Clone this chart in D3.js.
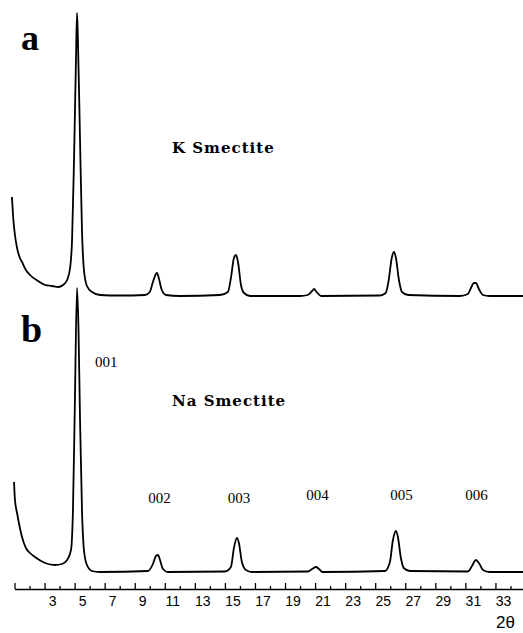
<!DOCTYPE html>
<html>
<script src="https://d3js.org/d3.v7.min.js"></script>
<style>
  body {margin:0; background:#fff;}
  .trace {fill:none; stroke:#000; stroke-width:1.8; stroke-linejoin:round;}
  .tick line {stroke:#000; stroke-width:1.3;}
  .domain {stroke:#000; stroke-width:1.3;}
</style>
<body onload='init()'>
<svg width=523 height=633></svg>
<script>
    // K smectite trace (a): 2-theta and intensity
    const kTheta = [0.33, 0.4, 0.53, 0.67, 0.86, 1.0, 1.26, 1.53, 2.06, 2.53, 3.0, 3.4, 3.73, 4.0, 4.2, 4.33, 4.46, 4.59, 4.66, 4.72, 4.86, 4.99, 5.12, 5.32, 5.66, 6.19, 7.52, 9.18, 9.5, 9.71, 9.91, 9.98, 10.1, 10.3, 10.58, 11.5, 14.17, 14.7, 14.9, 15.1, 15.24, 15.37, 15.57, 15.77, 16.17, 19.5, 20.0, 20.3, 20.43, 20.6, 20.9, 24.8, 25.2, 25.4, 25.6, 25.75, 25.88, 26.08, 26.28, 26.7, 30.14, 30.67, 30.87, 31.07, 31.2, 31.4, 31.67, 32.1, 34.4];
    const kIntensity = [99, 81, 61, 48, 38, 34, 26, 21, 15, 11, 10, 9, 11, 16, 28, 56, 136, 236, 283, 256, 156, 66, 26, 10, 4, 1, 0.5, 1, 4, 14, 22, 23, 18, 6, 1, 0, 1, 4, 18, 38, 41, 34, 11, 3, 0, 0, 1, 5, 7, 4, 0, 0.5, 3, 16, 38, 44, 38, 16, 4, 1, 0, 2, 8, 13, 13, 7, 1, 0, 0];

    // Na smectite trace (b)
    const naTheta = [0.47, 0.53, 0.67, 0.86, 1.0, 1.26, 1.53, 1.86, 2.53, 3.19, 3.66, 4.0, 4.26, 4.39, 4.52, 4.66, 4.76, 4.86, 4.99, 5.12, 5.32, 5.66, 6.19, 9.38, 9.71, 9.91, 10.05, 10.18, 10.38, 10.71, 14.5, 14.9, 15.1, 15.3, 15.43, 15.63, 15.9, 16.3, 20.03, 20.3, 20.56, 20.76, 21.0, 25.15, 25.48, 25.68, 25.88, 26.01, 26.21, 26.4, 26.8, 30.67, 30.94, 31.2, 31.4, 31.67, 32.1, 34.4];
    const naIntensity = [90, 72, 59, 44, 35, 24, 19, 15, 9, 7, 8, 12, 22, 62, 172, 284, 242, 152, 62, 22, 7, 1, 0, 1, 8, 16, 17, 12, 3, 0, 0.5, 5, 24, 34, 29, 10, 2, 0, 0.5, 3, 5, 3, 0, 1, 10, 32, 41, 35, 14, 4, 1, 0.5, 6, 12, 9, 2, 0, 0];

    // reflection labels for the Na trace
    const reflections = ["001", "002", "003", "004", "005", "006"];
    const reflectionTheta = [6.6, 10.15, 15.44, 20.66, 26.25, 31.24];

    const tickLabels = [3, 5, 7, 9, 11, 13, 15, 17, 19, 21, 23, 25, 27, 29, 31, 33];

    function init(){
        const svg = d3.select("svg");

        const x = d3.scaleLinear()
                .domain([0.5, 34.8])
                .range([14.5, 530]);

        const yA = d3.scaleLinear().domain([0, 283]).range([296, 13]);
        const yB = d3.scaleLinear().domain([0, 284]).range([572, 288]);

        const lineA = d3.line()
                .x((d, i) => x(kTheta[i]))
                .y(d => yA(d))
                .curve(d3.curveMonotoneX);

        const lineB = d3.line()
                .x((d, i) => x(naTheta[i]))
                .y(d => yB(d))
                .curve(d3.curveMonotoneX);

        svg.append("path").attr("class", "trace").attr("d", lineA(kIntensity));
        svg.append("path").attr("class", "trace").attr("d", lineB(naIntensity));

        // panel letters
        svg.append("text").attr("x", 21).attr("y", 50)
                .style("font", "bold 36px 'Liberation Serif', serif").text("a");
        svg.append("text").attr("x", 21).attr("y", 342)
                .style("font", "bold 38px 'Liberation Serif', serif").text("b");

        // sample names
        svg.append("text").attr("x", 172).attr("y", 153)
                .style("font", "bold 15px 'DejaVu Serif', serif")
                .style("letter-spacing", "1px").text("K  Smectite");
        svg.append("text").attr("x", 172).attr("y", 406)
                .style("font", "bold 15px 'DejaVu Serif', serif")
                .style("letter-spacing", "1px").text("Na  Smectite");

        svg.selectAll(".refl")
                .data(reflections)
                .enter().append("text")
                .attr("class", "refl")
                .attr("x", (d, i) => x(reflectionTheta[i]))
                .attr("y", (d, i) => i === 0 ? 367 : (i < 3 ? 503 : 500))
                .attr("text-anchor", "middle")
                .style("font", "15px 'Liberation Serif', serif")
                .text(d => d);

        // 2-theta axis: tall ticks half a degree before each label, short ones after
        const axisY = 589;
        const major = tickLabels.map(v => v - 0.5).concat([0.5]);
        const minor = tickLabels.map(v => v + 0.5).concat([1.5]);

        const g = svg.append("g").attr("transform", `translate(0,${axisY})`);
        g.append("g")
                .call(d3.axisTop(x).tickValues(major).tickSize(6).tickFormat("").tickSizeOuter(0));
        g.append("g")
                .call(d3.axisTop(x).tickValues(minor).tickSize(3).tickFormat("").tickSizeOuter(0))
                .select(".domain").remove();

        g.append("g")
                .call(d3.axisBottom(x).tickValues(tickLabels).tickSize(0).tickPadding(7))
                .call(a => a.select(".domain").remove())
                .selectAll("text")
                .style("font", "14px 'Liberation Sans', sans-serif")
                .attr("fill", "#000");

        svg.append("text").attr("x", 496).attr("y", 628)
                .style("font", "17px 'Liberation Sans', sans-serif").text("2θ");
    }
</script>
</body>
</html>
